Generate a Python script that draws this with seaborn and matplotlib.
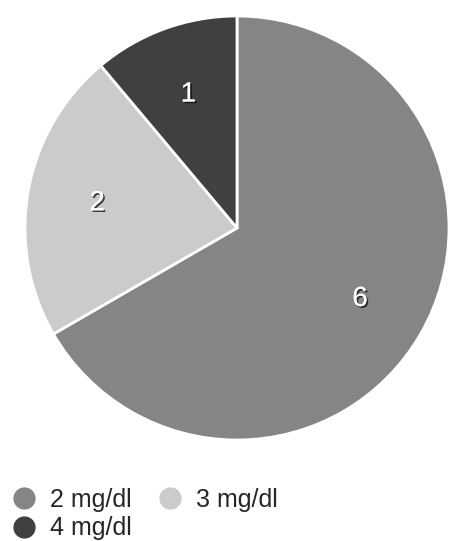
import matplotlib
matplotlib.use("Agg")
import matplotlib.pyplot as plt
import matplotlib.patheffects as pe
from matplotlib.lines import Line2D
import seaborn as sns

categories = ["2 mg/dl", "3 mg/dl", "4 mg/dl"]
values = [6, 2, 1]
colors = ["#858585", "#cbcbcb", "#404040"]

sns.set_theme(style="white")
plt.rcParams['font.family'] = ['Liberation Sans', 'DejaVu Sans']

fig = plt.figure(figsize=(4.5, 5.41), dpi=100)
W, H = 450, 541
cx, cy, r = 237, 228, 212
ax = fig.add_axes([(cx - r) / W, (H - cy - r) / H, 2 * r / W, 2 * r / H])

wedges, texts = ax.pie(values, colors=colors, startangle=90, counterclock=False,
                       labels=[str(v) for v in values], labeldistance=0.67,
                       wedgeprops=dict(edgecolor="white", linewidth=2),
                       textprops=dict(color="white", fontsize=20, ha="center", va="center"))
for t in texts:
    t.set_path_effects([pe.withSimplePatchShadow(offset=(1.2, -1.2), shadow_rgbFace="black", alpha=0.7),
                        pe.Normal()])
ax.set_xlim(-1, 1)
ax.set_ylim(-1, 1)
ax.set_aspect("equal")
ax.axis("off")

handles = [Line2D([0], [0], marker="o", linestyle="none", markersize=15,
                  markerfacecolor=c, markeredgecolor=c) for c in colors]
order = [0, 2, 1]
fig.legend([handles[i] for i in order], [categories[i] for i in order],
           loc="upper left", bbox_to_anchor=(4 / W, 1 - 480 / H),
           ncol=2, frameon=False, fontsize=18, handletextpad=0.55, columnspacing=1.0,
           labelspacing=0.2, borderaxespad=0, borderpad=0.3, handlelength=1.0)

fig.savefig("out.png", dpi=100)
